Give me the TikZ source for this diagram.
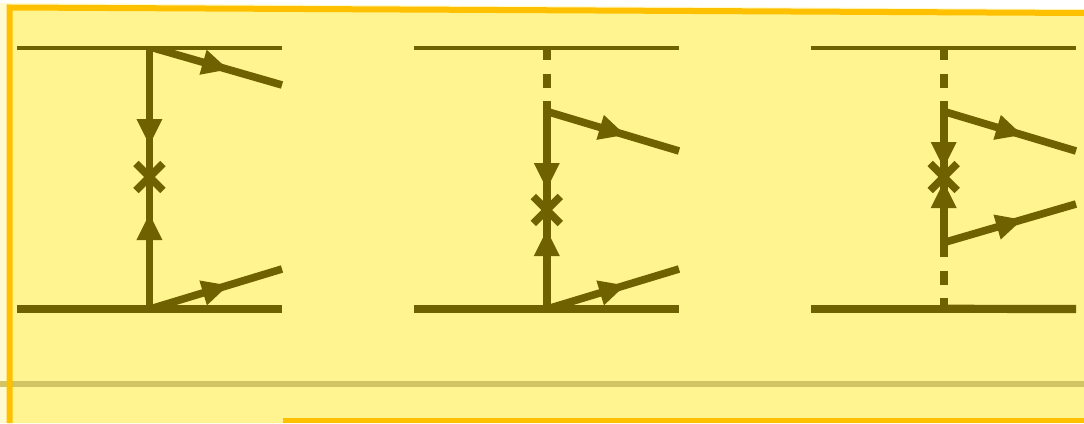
\documentclass[tikz,border=0pt]{standalone}
\usetikzlibrary{decorations.markings}
\definecolor{ink}{HTML}{6F6000}
\definecolor{paper}{HTML}{FFF48F}
\definecolor{halo}{HTML}{FFFAD0}
\definecolor{frameorange}{HTML}{FFC000}
\definecolor{rulegray}{HTML}{D0C464}
\tikzset{
  x=1pt,y=-1pt,
  thinrail/.style={draw=ink,line width=4.3pt},
  thickrail/.style={draw=ink,line width=8.2pt},
  prop/.style={draw=ink,line width=7.6pt},
  dashprop/.style={draw=ink,line width=7.6pt,dash pattern=on 14pt off 13.5pt},
  crossbar/.style={draw=ink,line width=7.6pt},
  tipat/.style={postaction={decorate},decoration={markings,mark=at position #1 with {\fill[ink] (1,0)--(-25,13)--(-25,-13)--cycle;}}},
  frameline/.style={draw=frameorange,line width=6pt},
}
\newcommand{\crossmark}[1]{%
  \draw[crossbar] ([shift={(-13.5,-13.5)}]#1) -- ([shift={(13.5,13.5)}]#1);
  \draw[crossbar] ([shift={(-13.5,13.5)}]#1) -- ([shift={(13.5,-13.5)}]#1);}
\newcommand{\downtip}[1]{\fill[ink] (#1) -- ++(-13,-26) -- ++(26,0) -- cycle;}
\newcommand{\uptip}[1]{\fill[ink] (#1) -- ++(-13,26) -- ++(26,0) -- cycle;}
\begin{document}
\begin{tikzpicture}
\useasboundingbox (0,0) rectangle (1084,423);
% backgrounds
\fill[white] (0,0) rectangle (1084,423);
\fill[halo] (0,3) -- (1084,9) -- (1084,423) -- (0,423) -- cycle;
\fill[paper] (9,7) -- (1084,13) -- (1084,423) -- (9,423) -- cycle;
\coordinate (gl) at (0,384); \coordinate (gr) at (1084,384);
\draw[rulegray,line width=6pt] (gl) -- (gr);
% frame
\coordinate (ftr) at (1084,13); \coordinate (ftl) at (9.5,7.5); \coordinate (fbl) at (9.5,423);
\draw[frameline,line cap=butt] (ftr) -- (ftl) -- (fbl);
\coordinate (bl) at (283,420.5); \coordinate (br) at (1084,420.5);
\draw[frameline,line width=5pt] (bl) -- (br);

% diagram 1
\coordinate (a1) at (17,48); \coordinate (a2) at (282,48);
\coordinate (a3) at (17,309); \coordinate (a4) at (282,309);
\coordinate (at) at (149.4,48); \coordinate (ab) at (149.4,309);
\coordinate (ax) at (149.4,177);
\coordinate (atd) at (149.4,145); \coordinate (abu) at (149.4,214);
\coordinate (ao1s) at (150,47); \coordinate (ao1e) at (282,85);
\coordinate (ao2s) at (150,309); \coordinate (ao2e) at (282,269);
\begin{scope}
  \clip (140,46.5) rectangle (300,100);
  \draw[prop,tipat=0.584] (ao1s) -- (ao1e);
\end{scope}
\draw[thinrail] (a1) -- (a2);
\draw[thickrail] (a3) -- (a4);
\draw[prop] (at) -- (ab);
\downtip{atd}
\uptip{abu}
\crossmark{ax}
\draw[prop,tipat=0.584] (ao2s) -- (ao2e);

% diagram 2
\coordinate (b1) at (414,48); \coordinate (b2) at (679,48);
\coordinate (b3) at (414,309); \coordinate (b4) at (679,309);
\coordinate (bt) at (546.8,46); \coordinate (bm) at (546.8,104); \coordinate (bb) at (546.8,309);
\coordinate (bx) at (546.8,210);
\coordinate (btd) at (546.8,189); \coordinate (bbu) at (546.8,230);
\coordinate (bo1s) at (547,111.5); \coordinate (bo1e) at (679,151);
\coordinate (bo2s) at (547,309); \coordinate (bo2e) at (679,269);
\draw[thinrail] (b1) -- (b2);
\draw[thickrail] (b3) -- (b4);
\draw[dashprop] (bt) -- (bm);
\draw[prop] (bm) -- (bb);
\downtip{btd}
\uptip{bbu}
\crossmark{bx}
\draw[prop,tipat=0.584] (bo1s) -- (bo1e);
\draw[prop,tipat=0.584] (bo2s) -- (bo2e);

% diagram 3
\coordinate (c1) at (811,48); \coordinate (c2) at (1076,48);
\coordinate (c3) at (811,308.8); \coordinate (c4) at (943.7,308.8); \coordinate (c5) at (1076,309);
\coordinate (ct) at (943.7,46); \coordinate (cm) at (943.7,104); \coordinate (cn) at (943.7,243.3); \coordinate (cb) at (943.7,309);
\coordinate (cx) at (943.7,177);
\coordinate (ctd) at (943.7,168); \coordinate (cbu) at (943.7,182);
\coordinate (co1s) at (944,111.5); \coordinate (co1e) at (1076,151);
\coordinate (co2s) at (944,242.5); \coordinate (co2e) at (1076,204);
\draw[thinrail] (c1) -- (c2);
\draw[dashprop] (ct) -- (cm);
\draw[prop] (cm) -- (cn);
\draw[dashprop] (cn) -- (cb);
\draw[draw=ink,line width=7.6pt] (c3) -- (c4);
\draw[thickrail] (c4) -- (c5);
\downtip{ctd}
\uptip{cbu}
\crossmark{cx}
\draw[prop,tipat=0.584] (co1s) -- (co1e);
\draw[prop,tipat=0.584] (co2s) -- (co2e);
\end{tikzpicture}
\end{document}
